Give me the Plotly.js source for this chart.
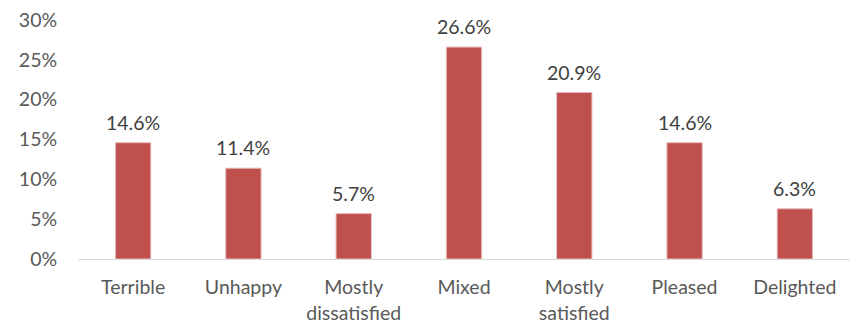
<!DOCTYPE html>
<html><head><meta charset="utf-8">
<script src="https://cdn.plot.ly/plotly-3.0.1.min.js"></script>
<style>html,body{margin:0;padding:0;background:#fff}#c{width:850px;height:323px}</style>
</head><body><div id="c"></div>
<script>
const categories = ["Terrible","Unhappy","Mostly<br>dissatisfied","Mixed","Mostly<br>satisfied","Pleased","Delighted"];
const values = [0.146, 0.114, 0.057, 0.266, 0.209, 0.146, 0.063];
const labels = ["14.6%","11.4%","5.7%","26.6%","20.9%","14.6%","6.3%"];
const yTicks = [0,0.05,0.10,0.15,0.20,0.25,0.30];
const yTickText = ["0%","5%","10%","15%","20%","25%","30%"];

const font = {family: "Lato, 'Noto Sans', sans-serif", size: 19.5, color: "#595959"};
const annotations = categories.map((c, i) => ({
  x: c, y: values[i], xref: "x", yref: "y", text: labels[i], showarrow: false,
  yanchor: "bottom", yshift: 7, font: {family: font.family, size: 19.5, color: "#404040"}
}));
Plotly.newPlot("c", [{
  type: "bar", x: categories, y: values,
  marker: {color: "#C0504D", line: {color: "#E6B9B8", width: 1}},
  hoverinfo: "none"
}], {
  width: 850, height: 323,
  margin: {l: 78, r: 0, t: 20, b: 64},
  paper_bgcolor: "#fff", plot_bgcolor: "#fff",
  bargap: 0.68,
  font: font,
  showlegend: false,
  annotations: annotations,
  xaxis: {showgrid: false, zeroline: false, showline: true, linecolor: "#D9D9D9", linewidth: 1,
          ticks: "outside", ticklen: 11, tickcolor: "rgba(0,0,0,0)", tickfont: font},
  yaxis: {range: [0, 0.30], tickvals: yTicks, ticktext: yTickText, showgrid: false, zeroline: false,
          showline: false, ticks: "outside", ticklen: 16, tickcolor: "rgba(0,0,0,0)", tickfont: font}
}, {staticPlot: true});
</script></body></html>
